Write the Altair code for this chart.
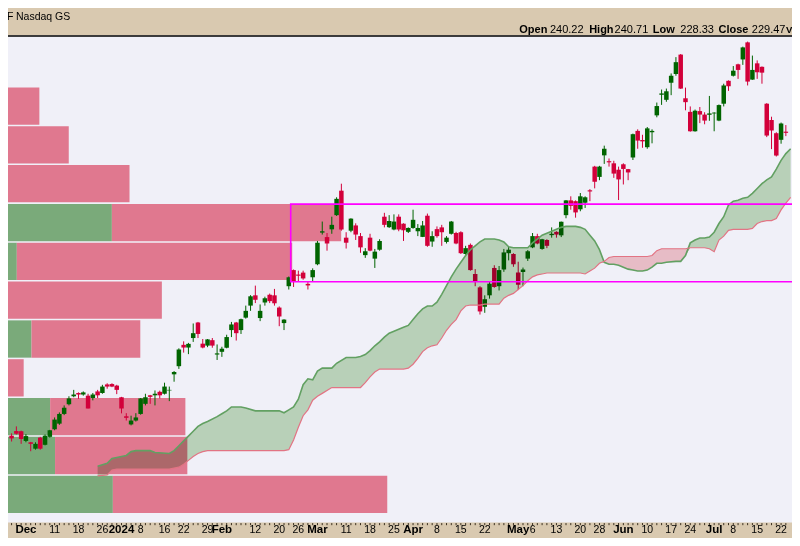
import altair as alt
import pandas as pd

# ---------------- data ----------------
# trading-day index (0 = Dec 11 2023), daily OHLC
day_idx = list(range(-9, 154))
opens = [
    152.1, 153.3, 153.25, 150.75, 150.4, 148.75, 151.6, 149.75, 151.8, 153.75,
    155.2, 157.7, 160.2, 162.25, 163.1, 162.7, 162.4, 161.8, 163.5, 163.1,
    165.3, 165.4, 165.0, 162.0, 157.1, 155.0, 156.0, 157.7, 160.3, 162.5,
    162.5, 163.4, 162.9, 163.75, 167.9, 170.0, 175.5, 174.8, 177.25, 181.25,
    175.8, 175.3, 176.7, 173.0, 173.7, 174.75, 179.3, 181.25, 179.3, 182.5,
    185.6, 188.25, 182.4, 186.4, 188.4, 188.25, 185.1, 181.1, 190.6, 194.75,
    193.6, 194.1, 191.2, 192.9, 196.25, 204.4, 203.25, 205.25, 208.9, 215.2,
    203.1, 204.9, 206.25, 203.5, 198.6, 203.1, 197.7, 200.0, 208.5, 205.8,
    205.2, 208.5, 206.7, 204.6, 205.6, 204.75, 203.3, 208.75, 202.1, 205.3,
    205.75, 202.0, 204.1, 204.3, 204.5, 198.9, 201.25, 193.75, 190.3, 185.3,
    188.25, 195.3, 190.6, 194.9, 199.1, 198.9, 194.1, 194.25, 197.7, 200.6,
    203.5, 200.2, 202.5, 203.75, 204.6, 203.7, 208.9, 212.7, 212.5, 210.4,
    212.1, 215.3, 221.4, 218.75, 224.3, 222.8, 222.25, 220.6, 222.0, 220.75,
    223.75, 230.6, 228.25, 226.4, 230.25, 234.6, 239.9, 238.6, 243.0, 245.25,
    250.25, 239.0, 235.5, 230.5, 235.7, 234.8, 234.75, 235.1, 233.25, 237.6,
    243.5, 244.8, 247.75, 249.0, 253.4, 243.8, 248.0, 247.1, 237.6, 233.4,
    230.0, 228.3, 230.4,
]
highs = [
    152.7, 154.5, 153.4, 152.5, 150.5, 150.4, 151.8, 152.4, 153.6, 156.8,
    158.1, 159.9, 162.25, 163.9, 163.25, 163.5, 162.9, 163.1, 163.9, 165.2,
    165.6, 165.6, 165.2, 162.1, 157.9, 157.25, 157.9, 161.8, 162.9, 162.6,
    163.75, 163.7, 165.75, 164.75, 168.75, 174.6, 176.4, 176.0, 181.0, 181.4,
    177.0, 177.0, 177.25, 175.6, 175.0, 178.1, 181.4, 181.4, 182.25, 185.6,
    188.3, 190.75, 185.9, 187.9, 188.7, 189.9, 185.4, 182.1, 193.1, 194.9,
    194.6, 194.6, 191.8, 195.2, 202.25, 207.25, 204.3, 208.5, 213.5, 217.0,
    204.5, 208.1, 206.8, 204.3, 200.4, 204.1, 200.2, 202.7, 209.5, 208.9,
    209.1, 209.1, 206.8, 205.75, 210.3, 206.6, 207.4, 209.3, 204.75, 206.0,
    206.4, 203.5, 207.4, 204.6, 204.75, 201.0, 201.6, 195.0, 190.6, 188.25,
    191.8, 196.0, 195.8, 200.2, 200.75, 199.1, 196.9, 195.4, 199.9, 204.3,
    204.1, 202.8, 202.7, 205.75, 204.75, 207.25, 212.8, 213.75, 212.7, 214.6,
    213.75, 215.6, 221.6, 221.6, 226.8, 223.5, 222.9, 221.4, 222.25, 220.8,
    229.9, 231.0, 229.6, 231.6, 231.0, 237.9, 241.25, 241.5, 245.4, 249.6,
    250.4, 241.75, 236.9, 236.1, 236.75, 235.4, 239.6, 235.4, 237.4, 242.75,
    243.6, 247.3, 247.9, 252.3, 253.6, 250.0, 248.75, 247.2, 237.75, 234.25,
    230.25, 232.75, 232.1,
]
lows = [
    150.6, 152.4, 150.0, 150.4, 148.1, 148.5, 148.5, 149.6, 151.6, 153.5,
    154.9, 157.4, 159.9, 162.0, 161.6, 162.4, 159.1, 161.2, 161.8, 162.9,
    164.2, 164.6, 162.8, 157.85, 156.0, 154.75, 155.75, 157.5, 159.9, 160.3,
    159.9, 161.7, 162.7, 161.0, 166.0, 169.3, 173.5, 173.1, 176.25, 177.25,
    174.6, 174.9, 174.75, 171.6, 172.4, 174.6, 177.5, 176.6, 178.3, 182.25,
    184.25, 186.25, 181.6, 185.6, 186.25, 185.6, 180.3, 179.3, 189.75, 190.4,
    191.8, 192.25, 189.75, 191.8, 196.0, 203.9, 199.75, 204.1, 208.7, 204.9,
    200.3, 204.5, 202.5, 199.2, 197.9, 199.6, 195.3, 199.75, 205.75, 205.6,
    205.0, 204.75, 202.25, 204.3, 205.4, 203.5, 203.25, 200.75, 200.75, 203.1,
    201.0, 201.6, 203.9, 201.4, 198.9, 198.7, 194.6, 190.6, 183.3, 183.75,
    187.4, 190.2, 189.5, 194.3, 197.25, 195.6, 189.6, 190.6, 197.1, 200.4,
    201.4, 200.0, 200.4, 203.1, 203.1, 203.25, 208.1, 210.3, 208.25, 209.9,
    210.75, 212.5, 215.8, 217.9, 222.1, 221.4, 218.5, 212.8, 216.8, 217.9,
    223.1, 226.0, 226.25, 226.0, 227.4, 234.1, 237.3, 238.1, 239.8, 244.8,
    241.4, 235.9, 230.4, 230.4, 232.6, 232.3, 233.2, 230.5, 233.1, 236.9,
    240.9, 244.6, 244.0, 247.6, 242.3, 243.75, 244.0, 242.75, 229.0, 225.9,
    224.0, 227.3, 229.25,
]
closes = [
    151.4, 152.6, 151.25, 152.0, 150.0, 150.0, 148.75, 152.1, 153.5, 156.25,
    157.7, 159.3, 161.7, 162.7, 162.7, 163.25, 159.1, 162.7, 162.5, 164.75,
    164.75, 164.75, 163.9, 159.1, 156.7, 156.0, 156.8, 161.7, 162.0, 162.1,
    162.9, 162.5, 164.75, 163.9, 168.5, 174.3, 174.8, 175.75, 178.5, 178.3,
    174.8, 176.9, 175.3, 173.3, 174.5, 177.5, 180.75, 178.5, 182.1, 184.25,
    188.0, 187.1, 184.25, 187.5, 186.75, 186.2, 182.8, 182.0, 192.9, 191.8,
    193.3, 192.6, 190.8, 194.75, 201.8, 204.75, 201.6, 206.4, 213.1, 205.2,
    201.8, 208.0, 203.9, 200.6, 199.6, 199.75, 199.5, 202.25, 206.4, 207.4,
    207.25, 205.2, 205.0, 205.6, 207.7, 205.6, 206.25, 201.0, 203.5, 203.5,
    204.5, 203.1, 207.25, 201.6, 199.1, 200.4, 194.75, 191.8, 184.1, 187.25,
    191.25, 190.4, 194.75, 199.3, 200.0, 196.25, 191.0, 194.9, 199.6, 203.5,
    201.6, 202.7, 201.0, 204.1, 203.9, 207.2, 212.7, 211.3, 209.6, 213.75,
    213.5, 215.0, 217.5, 221.4, 226.0, 222.5, 219.6, 218.1, 220.8, 219.9,
    229.75, 228.1, 227.9, 231.25, 230.6, 237.0, 240.25, 240.8, 244.8, 248.3,
    241.5, 238.0, 230.5, 235.8, 234.8, 233.25, 235.1, 235.3, 237.25, 242.3,
    242.1, 246.1, 246.3, 252.1, 243.3, 246.3, 245.7, 245.6, 229.4, 230.7,
    224.25, 232.5, 230.1,
]

# Ichimoku cloud: leading span A and leading span B
cloud_idx = [
    9, 11, 12, 13, 15, 16, 17, 20, 21, 24,
    25, 26, 27, 28, 29, 30, 31, 32, 34, 35,
    36, 37, 39, 40, 42, 47, 48, 49, 50, 51,
    52, 53, 54, 55, 56, 58, 59, 61, 63, 64,
    65, 66, 67, 68, 69, 70, 71, 72, 73, 74,
    75, 76, 77, 78, 79, 80, 81, 82, 83, 84,
    85, 86, 87, 88, 89, 90, 92, 93, 94, 95,
    96, 97, 98, 99, 100, 101, 102, 103, 104, 105,
    106, 107, 109, 110, 111, 112, 113, 114, 115, 116,
    117, 118, 119, 120, 121, 122, 123, 124, 125, 126,
    127, 128, 130, 131, 132, 133, 134, 135, 136, 137,
    138, 139, 140, 141, 142, 143, 144, 145, 146, 147,
    148, 149, 150, 151, 152, 153, 154,
]
span_a = [
    144.25, 145.0, 146.25, 146.5, 147.0, 148.0, 148.25, 148.25, 147.75, 147.5,
    148.25, 149.5, 150.75, 152.0, 153.25, 154.5, 155.25, 155.75, 157.0, 157.75,
    158.5, 159.5, 159.5, 159.25, 158.5, 158.5, 158.0, 158.75, 159.5, 161.5,
    165.25, 166.75, 166.5, 168.75, 169.5, 169.5, 170.75, 172.25, 172.25, 172.5,
    173.0, 174.0, 175.25, 176.25, 177.5, 178.5, 179.0, 179.5, 180.0, 180.5,
    182.0, 183.5, 184.75, 185.5, 185.5, 186.5, 188.5, 190.75, 193.0, 195.0,
    196.75, 198.5, 200.0, 201.0, 202.0, 202.75, 202.75, 202.5, 202.0, 200.75,
    200.5, 200.5, 200.5, 200.5, 201.75, 202.75, 203.75, 204.25, 204.75, 205.25,
    205.75, 206.0, 206.0, 205.75, 205.25, 203.75, 202.25, 200.0, 196.75, 196.25,
    196.25, 196.0, 195.5, 195.0, 194.75, 194.5, 194.5, 194.75, 195.5, 196.5,
    196.5, 196.75, 197.0, 197.0, 198.5, 201.75, 202.5, 203.0, 203.0, 203.25,
    204.5, 206.75, 208.5, 211.5, 212.5, 212.75, 213.25, 213.5, 214.5, 215.75,
    217.0, 218.0, 218.75, 220.75, 223.0, 224.75, 226.0,
]
span_b = [
    141.75, 142.0, 143.25, 143.5, 143.5, 143.5, 143.5, 143.5, 143.5, 143.5,
    143.75, 144.0, 144.75, 145.75, 146.75, 147.5, 148.0, 148.25, 148.25, 148.25,
    148.25, 148.25, 148.25, 148.25, 148.25, 148.25, 148.25, 148.5, 151.0, 154.25,
    157.25, 158.75, 161.25, 162.25, 163.0, 164.5, 164.5, 164.5, 164.5, 164.5,
    165.75, 167.25, 168.5, 169.25, 169.25, 169.25, 169.25, 169.25, 169.25, 169.5,
    170.5, 172.0, 173.75, 174.75, 175.25, 175.5, 177.25, 179.25, 180.75, 182.0,
    184.25, 185.5, 185.75, 185.75, 185.75, 186.0, 186.0, 186.0, 187.5, 188.25,
    188.75, 189.75, 190.75, 192.0, 193.0, 193.5, 193.75, 194.0, 194.0, 194.0,
    194.0, 194.0, 194.0, 194.0, 193.75, 194.5, 195.25, 196.5, 197.0, 198.0,
    198.25, 198.25, 198.25, 198.25, 198.25, 198.25, 198.25, 198.25, 198.5, 199.75,
    200.25, 200.25, 200.25, 200.25, 200.25, 200.5, 200.5, 200.5, 200.5, 200.25,
    199.5, 202.5, 203.5, 205.0, 205.25, 205.25, 205.25, 205.25, 205.5, 206.75,
    207.25, 207.5, 207.5, 208.0, 210.25, 212.0, 213.5,
]

# volume-by-price zones (price band low edge, up volume, down volume; millions)
vbp_low = [232, 222, 212, 202, 192, 182, 172, 162, 152, 142, 132]
vbp_up = [0, 0, 0, 10.6, 0.9, 0, 2.4, 0, 4.3, 4.8, 10.7]
vbp_down = [3.2, 6.2, 12.4, 23.4, 28.1, 15.7, 11.1, 1.6, 13.8, 13.5, 28.0]
vbp_step = 10

# annotation box (start day, top/bottom price)
box_start = [49.4]
box_end = [170]
box_top = [211.75]
box_bottom = [191.75]

# x-axis labels
tick_idx = [-6, 0, 5, 10, 14, 18, 23, 27, 32, 35, 42, 47, 51, 55, 61, 66, 71,
            75, 80, 85, 90, 97, 100, 105, 110, 114, 119, 124, 129, 133, 138,
            142, 147, 152]
tick_text = ["Dec", "11", "18", "26", "2024", "8", "16", "22", "29", "Feb",
             "12", "20", "26", "Mar", "11", "18", "25", "Apr", "8", "15", "22",
             "May", "6", "13", "20", "28", "Jun", "10", "17", "24", "Jul", "8",
             "15", "22"]
month_names = {"Dec", "2024", "Feb", "Mar", "Apr", "May", "Jun", "Jul"}
tick_bold = [t in month_names for t in tick_text]

# header quote
quote_names = ["Open", "High", "Low", "Close"]
quote_values = ["240.22", "240.71", "228.33", "229.47"]

# ---------------- layout / style ----------------
W, H = 784, 530
SX, SY = W / 800, H / 546
X_DOM = [-43 / 4.94, 757 / 4.94]
Y_DOM = [262.25 - 546 / 4, 262.25]
FONT = "Liberation Sans, Arial, sans-serif"
BG = "#f0f0f8"
TAN = "#d9c9b0"
GREEN = "#006400"
RED = "#d2003a"

xs = alt.Scale(domain=X_DOM, nice=False, zero=False)
ys = alt.Scale(domain=Y_DOM, nice=False, zero=False)


def X(f):
    return alt.X(f, type="quantitative", scale=xs, axis=None)


def Y(f):
    return alt.Y(f, type="quantitative", scale=ys, axis=None)


candles = pd.DataFrame({"idx": day_idx, "open": opens, "high": highs,
                        "low": lows, "close": closes})
updown = alt.condition("datum.close >= datum.open", alt.value(GREEN), alt.value(RED))
cb = alt.Chart(candles)
wicks = cb.mark_rule(strokeWidth=1).encode(x=X("idx"), y=Y("low"), y2="high", color=updown)
bodies = cb.mark_bar(size=4.5).encode(x=X("idx"), y=Y("open"), y2="close", color=updown)

cloud = pd.DataFrame({"idx": cloud_idx, "a": span_a, "b": span_b})
cl = alt.Chart(cloud).transform_calculate(lo="min(datum.a, datum.b)")
green_area = cl.mark_area(color="#c4ddbd", opacity=1, blend="multiply").encode(
    x=X("idx"), y=Y("a"), y2="lo")
pink_area = cl.mark_area(color="#f6c8cc", opacity=1, blend="multiply").encode(
    x=X("idx"), y=Y("b"), y2="lo")
line_a = cl.mark_line(color="#62a062", strokeWidth=1.6).encode(x=X("idx"), y=Y("a"))
line_b = cl.mark_line(color="#e27484", strokeWidth=1.2).encode(x=X("idx"), y=Y("b"))

box = alt.Chart(pd.DataFrame({"x0": box_start, "x1": box_end, "t": box_top, "b": box_bottom})).mark_rect(
    fillOpacity=0, stroke="#ff00ff", strokeWidth=1.6, clip=True).encode(
    x=X("x0"), x2="x1", y=Y("t"), y2="b")

vbp = pd.DataFrame({"low": vbp_low, "up": vbp_up, "down": vbp_down})
vb = alt.Chart(vbp).transform_calculate(
    zero="0", total="datum.up + datum.down",
    y0="datum.low + 0.2", y1="datum.low + %s - 0.2" % vbp_step)
vs = alt.Scale(domain=[0, 80], nice=False, zero=False)
up_bars = vb.mark_rect(color="#7aaa7a").encode(
    x=alt.X("zero:Q", scale=vs, axis=None), x2="up:Q", y=Y("y1"), y2="y0")
down_bars = vb.mark_rect(color="#e0788f").encode(
    x=alt.X("up:Q", scale=vs, axis=None), x2="total:Q", y=Y("y1"), y2="y0")

one = alt.Chart(pd.DataFrame({"k": [0]}))


def band(y0, y1, color):
    return one.mark_rect(color=color).encode(
        x=alt.value(0), x2=alt.value(W), y=alt.value(y0), y2=alt.value(y1))


def txt(text, x, y, size, weight="normal", align="left"):
    return one.mark_text(text=text, font=FONT, fontSize=size, fontWeight=weight,
                         align=align, baseline="alphabetic", color="#000").encode(
        x=alt.value(x), y=alt.value(y))


header_bg = band(0, 28 * SY, TAN)
header_line = band(28 * SY, 29.6 * SY, "#000")
strip_bg = band(530 * SY, H, TAN)

ticks = alt.Chart(pd.DataFrame({"idx": day_idx})).mark_rule(
    color="#3b3020", strokeWidth=1).encode(
    x=X("idx"), y=alt.value(530.6 * SY), y2=alt.value(532.8 * SY))

labs = pd.DataFrame({"idx": tick_idx, "label": tick_text, "bold": tick_bold})
lab_bold = alt.Chart(labs).transform_filter("datum.bold").mark_text(
    font=FONT, fontSize=11.5, fontWeight="bold", align="center",
    baseline="alphabetic", color="#000").encode(
    x=X("idx"), y=alt.value(541 * SY), text="label:N")
lab_norm = alt.Chart(labs).transform_filter("!datum.bold").mark_text(
    font=FONT, fontSize=10.5, align="center", baseline="alphabetic",
    color="#000").encode(x=X("idx"), y=alt.value(541 * SY), text="label:N")

name_x = [521.7, 593, 658, 725]
value_x = [553, 619, 686, 759]
header_texts = [txt("F", -1, 12 * SY, 10.5), txt("Nasdaq GS", 8, 12 * SY, 10.5)]
for n, v, nx, vx in zip(quote_names, quote_values, name_x, value_x):
    header_texts.append(txt(n, nx * SX, 26 * SY, 11, "bold"))
    header_texts.append(txt(v, vx * SX, 26 * SY, 11))
header_texts.append(txt("V", 778, 26 * SY, 9.5, "bold"))

main = alt.layer(wicks, bodies, green_area, pink_area, line_a, line_b, box,
                 strip_bg, ticks, lab_bold, lab_norm, header_bg, header_line,
                 *header_texts)
vol = alt.layer(up_bars, down_bars)

chart = alt.layer(vol, main).resolve_scale(x="independent").properties(
    width=W, height=H, padding=0,
    autosize=alt.AutoSizeParams(type="none"), background=BG,
).configure_view(stroke="transparent")

chart.save("out.html", embed_options={"renderer": "svg", "actions": False})
